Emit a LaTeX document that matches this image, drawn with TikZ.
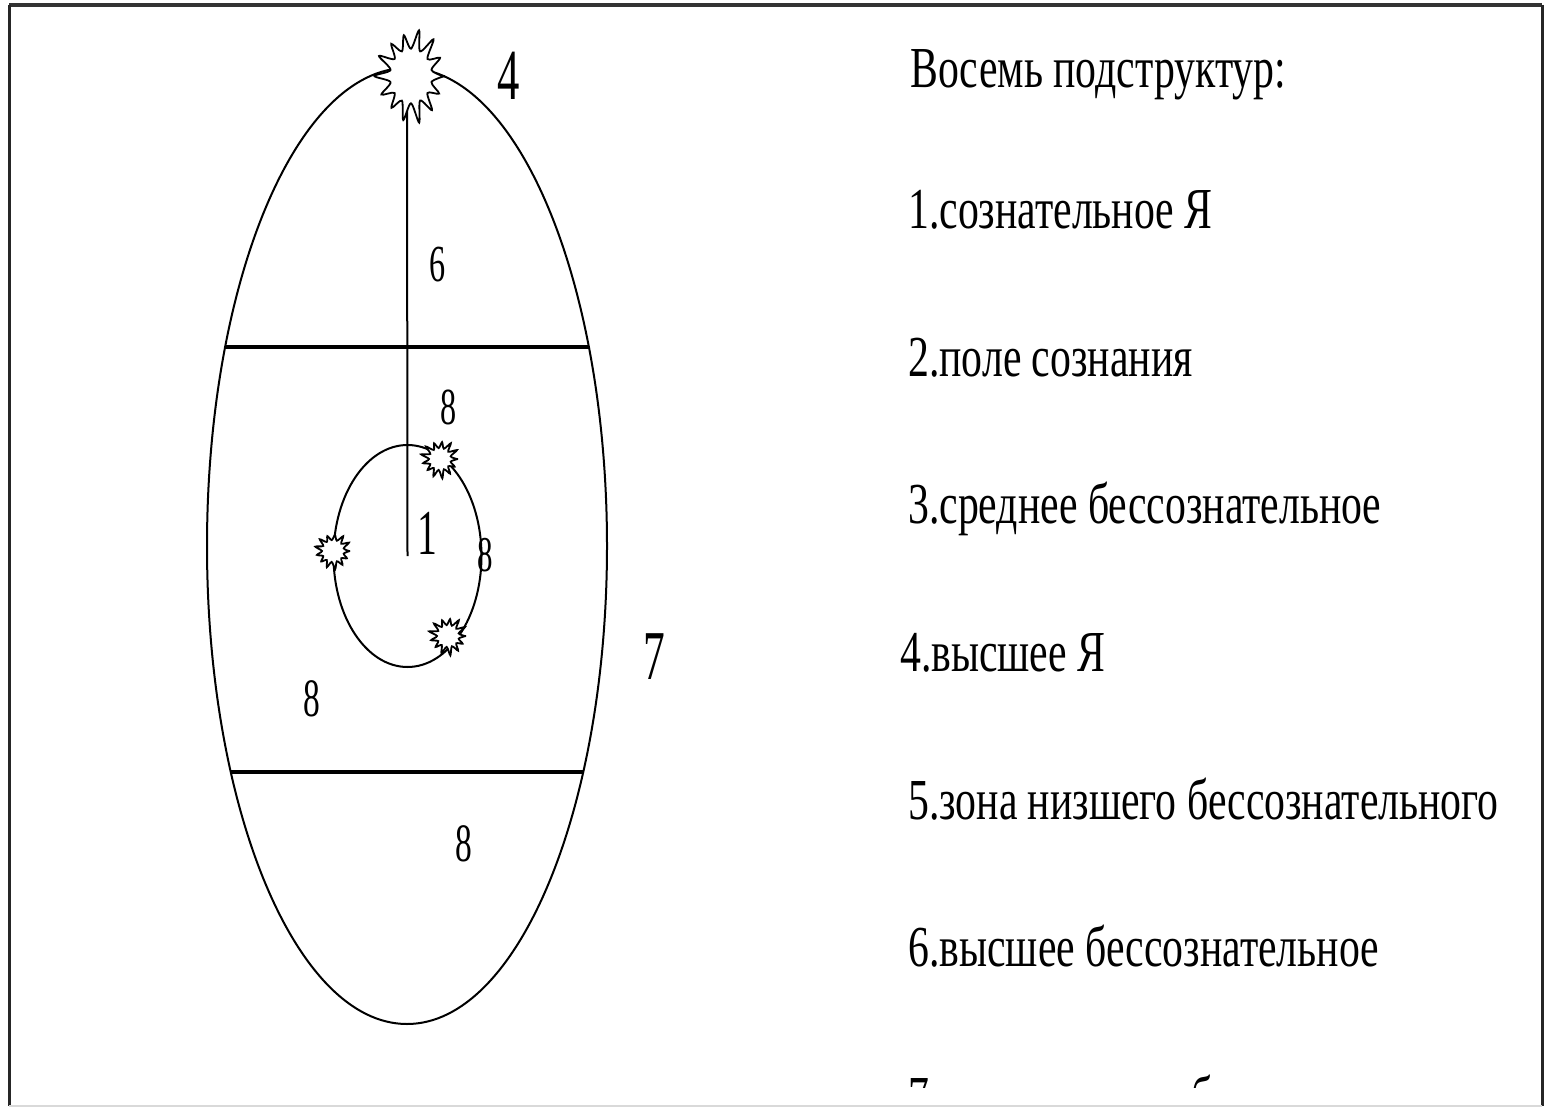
\documentclass[tikz,border=0pt]{standalone}
\usepackage{fontspec}
\setmainfont{Liberation Serif}
\usepackage{graphicx}
\newcommand\squeezetxt[2][0.72]{\scalebox{#1}[1]{#2}}
\newcommand\drawburst[6]{%
  \draw[burststyle, shift={(#1,#2)}, yscale=#5] plot[samples=#6+#6+1, domain=0:#6+#6, variable=\x, smooth=false]
    ({\x*180/#6}:{#3+(#4-#3)*(1+cos(\x*180))/2*(1+0.22*sin(\x*137))}) -- cycle;}
\begin{document}
\begin{tikzpicture}[x=1pt,y=-1pt,
  burststyle/.style={line width=1.8pt, fill=white, line join=miter, miter limit=4},
  edge/.style={line width=2pt},
  divider/.style={line width=3.2pt},
  lab/.style={inner sep=0pt, font=\fontsize{#1}{#1}\selectfont},
  txt/.style={anchor=base west, inner sep=0pt, font=\fontsize{58}{58}\selectfont}]
\useasboundingbox (0,0) rectangle (1545,1108);
\fill[white] (0,0) rectangle (1545,1108);
% frame
\draw[line width=4pt, black!80] (9,5) -- (1542,5);
\draw[line width=3pt, black!85] (9,5) -- (9,1106);
\draw[line width=3pt, black!85] (1542,5) -- (1542,1106);
\draw[line width=1.5pt, black!15] (9,1106) -- (1542,1106);

% big egg
\coordinate (c) at (407,546);
\draw[edge] (c) ellipse [x radius=200, y radius=478];
\coordinate (l1a) at (225,347); \coordinate (l1b) at (589,347);
\coordinate (l2a) at (230,772); \coordinate (l2b) at (584,772);
\draw[divider] (l1a) -- (l1b);
\draw[divider] (l2a) -- (l2b);
% inner ellipse
\coordinate (s) at (407.5,556);
\draw[edge] (s) ellipse [x radius=74, y radius=111];
% vertical line
\coordinate (top) at (407,95);
\draw[edge] (top) -- (s);
% bursts
\drawburst{411}{76}{21}{34}{1.3}{14}
\drawburst{440}{459}{11}{18}{1}{13}
\drawburst{333}{551}{11}{17}{1}{13}
\drawburst{448}{636}{11}{18}{1}{13}

% labels
\node[lab=72] (n4) at (509,76) {\squeezetxt[0.62]{4}};
\node[lab=52] (n6) at (438,265) {\squeezetxt[0.62]{6}};
\node[lab=52] (n8a) at (449,407) {\squeezetxt[0.62]{8}};
\node[lab=64] (n1) at (427,533) {\squeezetxt[0.62]{1}};
\node[lab=50] (n8b) at (485,555) {\squeezetxt[0.62]{8}};
\node[lab=70] (n7) at (654,657) {\squeezetxt[0.62]{7}};
\node[lab=54] (n8c) at (312,699) {\squeezetxt[0.62]{8}};
\node[lab=54] (n8d) at (464,844) {\squeezetxt[0.62]{8}};

% list
\node[txt] (t0) at (910,88) {\squeezetxt{Восемь подструктур:}};
\node[txt] (t1) at (908,228) {\squeezetxt{1.сознательное Я}};
\node[txt] (t2) at (908,376) {\squeezetxt{2.поле сознания}};
\node[txt] (t3) at (908,523) {\squeezetxt{3.среднее бессознательное}};
\node[txt] (t4) at (900,671) {\squeezetxt{4.высшее Я}};
\node[txt] (t5) at (908,819) {\squeezetxt{5.зона низшего бессознательного}};
\node[txt] (t6) at (908,966) {\squeezetxt{6.высшее бессознательное}};
\begin{scope}
\clip (0,0) rectangle (1545,1087);
\node[txt] (t7) at (908,1116) {\squeezetxt{7.коллективное бессознательное}};
\end{scope}
\end{tikzpicture}
\end{document}
